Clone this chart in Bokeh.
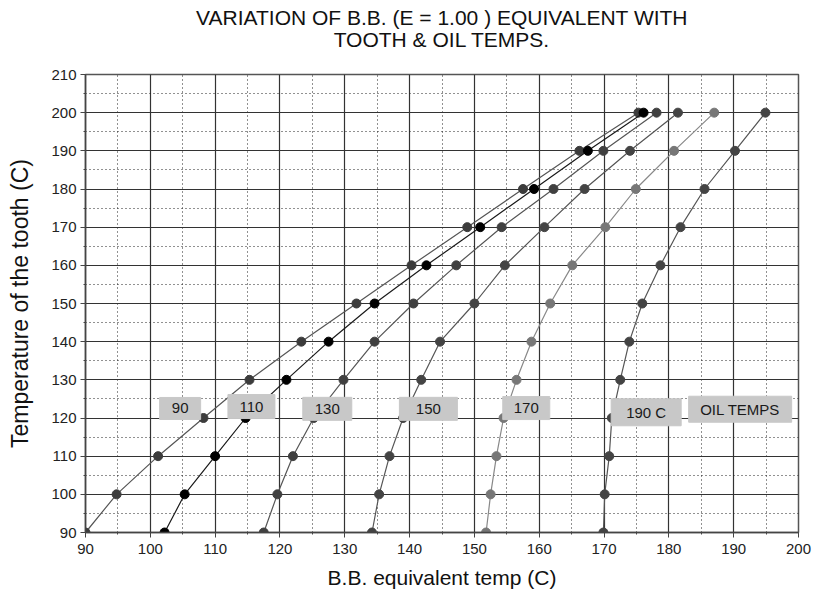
from bokeh.plotting import figure
from bokeh.models import FixedTicker, Label, ColumnDataSource, Range1d, Title, LinearAxis
from bokeh.embed import file_html
from bokeh.resources import INLINE

# Tooth temperature (y) for every curve
tooth_temp = [90, 100, 110, 120, 130, 140, 150, 160, 170, 180, 190, 200]

# B.B. equivalent temperature (x) for each oil temperature
oil_90 = [90.0, 94.8, 101.2, 108.2, 115.3, 123.3, 131.8, 140.3, 148.9, 157.5, 166.2, 175.3]
oil_110 = [102.2, 105.3, 110.0, 114.7, 121.0, 127.5, 134.6, 142.6, 150.9, 159.2, 167.5, 176.1]
oil_130 = [117.5, 119.6, 122.0, 125.2, 129.8, 134.6, 140.6, 147.2, 154.2, 162.2, 169.9, 178.1]
oil_150 = [134.2, 135.3, 136.9, 139.0, 141.8, 144.7, 150.0, 154.7, 160.8, 167.0, 174.0, 181.4]
oil_170 = [151.8, 152.5, 153.4, 154.5, 156.5, 158.8, 161.7, 165.1, 170.2, 174.9, 180.8, 187.0]
oil_190 = [169.9, 170.1, 170.8, 171.2, 172.5, 173.9, 175.9, 178.7, 181.8, 185.5, 190.2, 194.9]

series_names = ["90", "110", "130", "150", "170", "190 C"]
series_values = [oil_90, oil_110, oil_130, oil_150, oil_170, oil_190]
legend_text = "OIL TEMPS"

x_ticks = list(range(90, 201, 10))
y_ticks = list(range(90, 211, 10))

title_lines = ["VARIATION OF B.B. (E = 1.00 ) EQUIVALENT WITH", "TOOTH & OIL TEMPS."]

FONT = "Liberation Sans"

p = figure(width=813, height=598, output_backend="svg", toolbar_location=None,
           x_range=Range1d(90, 200), y_range=Range1d(90, 210),
           min_border_left=85, min_border_right=15, min_border_top=74, min_border_bottom=66)
p.background_fill_color = "white"
p.border_fill_color = "white"
p.outline_line_color = "#555555"
p.outline_line_width = 1.5

xax = p.below[0]
yax = p.left[0]
x_ticker = FixedTicker(ticks=x_ticks, minor_ticks=[t + 5 for t in x_ticks[:-1]])
y_ticker = FixedTicker(ticks=y_ticks, minor_ticks=[t + 5 for t in y_ticks[:-1]])
xax.ticker = x_ticker
yax.ticker = y_ticker
p.xgrid[0].ticker = x_ticker
p.ygrid[0].ticker = y_ticker

for ax in (xax, yax):
    ax.axis_line_color = "#444444"
    ax.axis_line_width = 1.5
    ax.major_tick_line_color = "#444444"
    ax.major_tick_out = 5
    ax.major_tick_in = 0
    ax.minor_tick_line_color = "#444444"
    ax.minor_tick_out = 2
    ax.minor_tick_in = 0
    ax.major_label_text_font = FONT
    ax.major_label_text_font_size = "15px"
    ax.major_label_text_color = "#222222"
    ax.axis_label_text_font = FONT
    ax.axis_label_text_font_style = "normal"
    ax.axis_label_text_color = "#111111"

xax.axis_label = "B.B. equivalent temp (C)"
yax.axis_label = "Temperature of the tooth (C)"
xax.axis_label_text_font_size = "21px"
yax.axis_label_text_font_size = "23px"
xax.major_label_standoff = 6
yax.major_label_standoff = 4
xax.axis_label_standoff = 9
yax.axis_label_standoff = 15

for g in (p.xgrid[0], p.ygrid[0]):
    g.grid_line_color = "#333333"
    g.grid_line_width = 1.2
    g.minor_grid_line_color = "#222222"
    g.minor_grid_line_dash = "1 3"
    g.minor_grid_line_width = 1

# title line 2: label of an otherwise invisible, tick-less axis above the frame
title_axis = LinearAxis(ticker=FixedTicker(ticks=[], minor_ticks=[]), axis_label=title_lines[1],
                        axis_line_color=None, major_tick_line_color=None,
                        minor_tick_line_color=None, major_tick_out=0, minor_tick_out=0,
                        major_label_standoff=0,
                        axis_label_standoff=24, axis_label_text_font=FONT,
                        axis_label_text_font_size="21px", axis_label_text_font_style="normal",
                        axis_label_text_color="#111111")
p.add_layout(title_axis, "above")
# title line 1: a centred title above that
p.add_layout(Title(text=title_lines[0], align="center", text_font=FONT,
                   text_font_size="21px", text_font_style="normal",
                   text_color="#111111", standoff=-8), "above")

dot_colors = ["#3c3c3c", "#000000", "#404040", "#444444", "#777777", "#444444"]
line_colors = ["#555555", "#1a1a1a", "#555555", "#555555", "#888888", "#555555"]

for name, xs, dc, lc in zip(series_names, series_values, dot_colors, line_colors):
    src = ColumnDataSource(dict(x=xs, y=tooth_temp))
    p.line("x", "y", source=src, line_color=lc, line_width=1.2)
    p.scatter("x", "y", source=src, size=9, fill_color=dc, line_color=dc)

# label boxes: (x, y) centre in data, box width/height in px
box_pos = [(104.6, 122.5, 41, 22), (115.6, 123.0, 47, 24), (127.3, 122.4, 49, 23),
           (142.9, 122.4, 58, 23), (158.0, 122.6, 47, 23), (176.5, 121.5, 70, 27),
           (191.0, 122.3, 103, 26)]
texts = series_names + [legend_text]
for t, (bx, by, bw, bh) in zip(texts, box_pos):
    p.rect(x=bx, y=by, width=bw, height=bh, width_units="screen", height_units="screen",
           fill_color="#c8c8c8", line_color="#c8c8c8")
    p.add_layout(Label(x=bx, y=by, text=t, text_align="center", text_baseline="middle",
                       text_font=FONT, text_font_size="15px", text_color="#1a1a1a"))

open("out.html", "w").write(file_html(p, INLINE))
